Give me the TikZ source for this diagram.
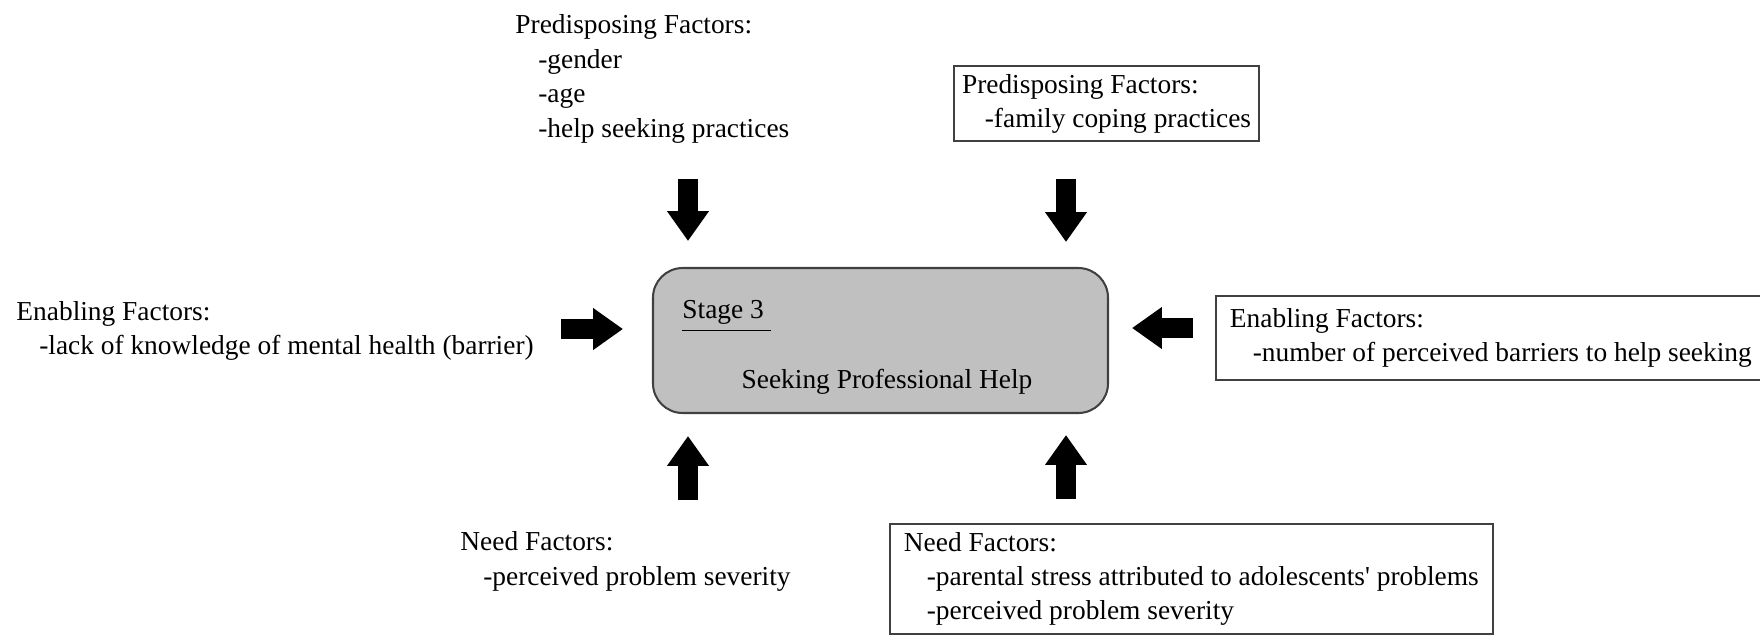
\documentclass[tikz,border=0pt]{standalone}
\usepackage{fontspec}
\setmainfont{Liberation Serif}
\usetikzlibrary{arrows.meta}
\definecolor{BoxGray}{RGB}{192,192,192}
\definecolor{EdgeGray}{RGB}{64,64,64}
\newcommand{\ind}{\hspace*{10pt}}
\newcommand{\fz}{\fontsize{12pt}{15.1pt}\selectfont}

\begin{document}
\begin{tikzpicture}[
    x=0.438pt, y=-0.438pt,
    font=\fz,
    factors/.style={anchor=north west, inner sep=0pt, align=left},
    factbox/.style={draw=EdgeGray, line width=0.9pt, anchor=north west, align=left,
        inner xsep=6.1pt, inner ysep=3.5pt},
    stagebox/.style={draw=EdgeGray, line width=0.9pt, fill=BoxGray, rounded corners=13pt,
        minimum width=199.3pt, minimum height=63.5pt},
    fatarrow/.style={line width=8.8pt, -{Triangle[length=13.1pt, width=17.5pt]}}
]
\useasboundingbox (0,0) rectangle (1760,637);

% centre: stage 3
\node[stagebox] (stage) at (880.5,340.5) {};
\node[anchor=base west, inner sep=0pt, text depth=5.3pt] (stg) at (682,318) {Stage 3};
\draw[line width=0.7pt] (stg.south west) -- ([xshift=3pt]stg.south east);
\node[anchor=base, inner sep=0pt] (help) at (887,388) {Seeking Professional Help};

% factors round the stage
\node[factors] (predA) at (515,14.3)
    {Predisposing Factors:\\ \ind-gender\\ \ind-age\\ \ind-help seeking practices};
\node[factbox, inner xsep=3.5pt] (predB) at (953,65)
    {Predisposing Factors:\\ \ind-family coping practices};
\node[factors] (enabA) at (16,301)
    {Enabling Factors:\\ \ind-lack of knowledge of mental health (barrier)};
\node[factbox, inner ysep=5.3pt] (enabB) at (1215,295)
    {Enabling Factors:\\ \ind-number of perceived barriers to help seeking};
\node[factors] (needA) at (460,531.3)
    {Need Factors:\\ \ind-perceived problem severity};
\node[factbox] (needB) at (889,523)
    {Need Factors:\\ \ind-parental stress attributed to adolescents\textquotesingle{} problems\\
     \ind-perceived problem severity};

% block arrows
\coordinate (predAtail) at (688,179);  \coordinate (predAtip) at (688,241);
\coordinate (predBtail) at (1066,179); \coordinate (predBtip) at (1066,242);
\coordinate (enabAtail) at (561,329);  \coordinate (enabAtip) at (623,329);
\coordinate (enabBtail) at (1193,328); \coordinate (enabBtip) at (1132,328);
\coordinate (needAtail) at (688,500);  \coordinate (needAtip) at (688,436);
\coordinate (needBtail) at (1066,499); \coordinate (needBtip) at (1066,435);

\draw[fatarrow] (predAtail) -- (predAtip);
\draw[fatarrow] (predBtail) -- (predBtip);
\draw[fatarrow] (enabAtail) -- (enabAtip);
\draw[fatarrow] (enabBtail) -- (enabBtip);
\draw[fatarrow] (needAtail) -- (needAtip);
\draw[fatarrow] (needBtail) -- (needBtip);

\end{tikzpicture}
\end{document}
